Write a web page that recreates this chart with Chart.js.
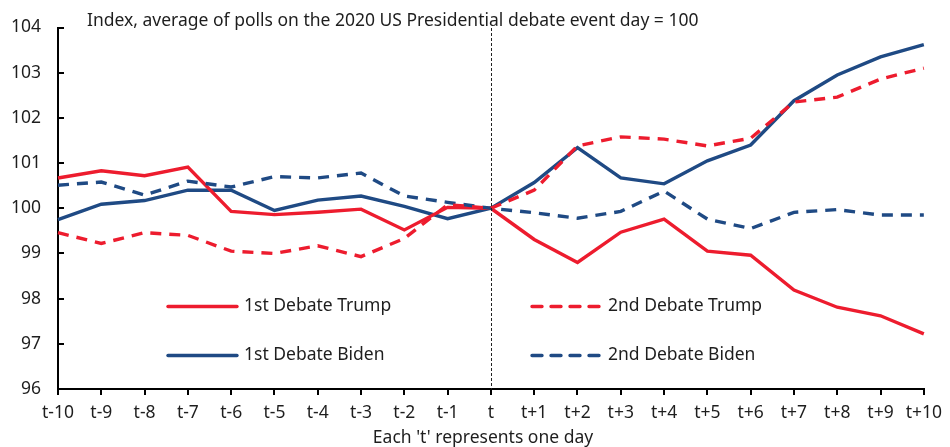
<!DOCTYPE html>
<html>
<head>
<meta charset="utf-8">
<script src="https://cdn.jsdelivr.net/npm/chart.js@4.4.1/dist/chart.umd.min.js"></script>
<style>
  html, body { margin: 0; padding: 0; background: #fff; }
  #wrap { width: 950px; height: 447px; position: relative; }
</style>
</head>
<body>
<div id="wrap"><canvas id="chart" width="950" height="447"></canvas></div>
<script>
// Days around the debate event (t = debate day)
const days = ['t-10','t-9','t-8','t-7','t-6','t-5','t-4','t-3','t-2','t-1','t',
              't+1','t+2','t+3','t+4','t+5','t+6','t+7','t+8','t+9','t+10'];

// Poll index, event day = 100
const firstTrump  = [100.67,100.83,100.72,100.91,99.93,99.86,99.91,99.98,99.52,100.02,100,
                     99.31,98.80,99.47,99.76,99.05,98.96,98.19,97.81,97.62,97.22];
const firstBiden  = [99.75,100.09,100.17,100.40,100.40,99.95,100.18,100.27,100.04,99.77,100,
                     100.57,101.34,100.67,100.54,101.05,101.40,102.38,102.95,103.35,103.62];
const secondTrump = [99.46,99.22,99.46,99.40,99.05,99.00,99.17,98.93,99.33,100.08,100,
                     100.40,101.38,101.58,101.53,101.38,101.55,102.35,102.46,102.86,103.10];
const secondBiden = [100.51,100.58,100.29,100.60,100.47,100.70,100.67,100.78,100.27,100.13,100,
                     99.90,99.78,99.93,100.38,99.76,99.55,99.91,99.97,99.85,99.85];

const yTicks = [96, 97, 98, 99, 100, 101, 102, 103, 104];
const titleText = 'Index, average of polls on the 2020 US Presidential debate event day = 100';
const xTitleText = "Each 't' represents one day";
const eventDay = 't';

const RED = '#ED1C2E';
const BLUE = '#1F4A84';
const INK = '#1e1e1e';
const FONT = '"Noto Sans", "Open Sans", sans-serif';
const FSIZE = 17.5;
const DASH = [11, 8];

const datasets = [
  { label: '2nd Debate Trump', data: secondTrump, borderColor: RED, borderDash: DASH },
  { label: '2nd Debate Biden', data: secondBiden, borderColor: BLUE, borderDash: DASH },
  { label: '1st Debate Trump', data: firstTrump, borderColor: RED, borderDash: [] },
  { label: '1st Debate Biden', data: firstBiden, borderColor: BLUE, borderDash: [] }
].map(d => Object.assign({
  borderWidth: 3.4, pointRadius: 0, tension: 0, fill: false,
  borderCapStyle: 'butt', borderJoinStyle: 'miter', backgroundColor: d.borderColor
}, d));

// Legend placement inside the plot: [dataset label, column, row]
const legendLayout = [
  ['1st Debate Trump', 0, 0], ['2nd Debate Trump', 1, 0],
  ['1st Debate Biden', 0, 1], ['2nd Debate Biden', 1, 1]
];

const decorations = {
  id: 'decorations',
  afterDatasetsDraw(chart) {
    const ctx = chart.ctx;
    const x = chart.scales.x, y = chart.scales.y;
    const area = chart.chartArea;
    ctx.save();

    // event-day marker
    const ex = Math.round(x.getPixelForValue(days.indexOf(eventDay))) + 0.5;
    ctx.strokeStyle = '#222';
    ctx.lineWidth = 1;
    ctx.setLineDash([3, 2]);
    ctx.beginPath();
    ctx.moveTo(ex, 28);
    ctx.lineTo(ex, area.bottom);
    ctx.stroke();
    ctx.setLineDash([]);

    // inward ticks on the value axis
    ctx.strokeStyle = '#000';
    ctx.lineWidth = 2;
    yTicks.forEach(v => {
      const py = Math.round(y.getPixelForValue(v));
      ctx.beginPath();
      ctx.moveTo(area.left, py);
      ctx.lineTo(area.left + 6, py);
      ctx.stroke();
    });

    // header text
    ctx.fillStyle = INK;
    ctx.font = FSIZE + 'px ' + FONT;
    ctx.textBaseline = 'middle';
    ctx.textAlign = 'left';
    ctx.fillText(titleText, 87, 21);

    // x axis title
    ctx.textAlign = 'center';
    ctx.fillText(xTitleText, 483, 438);

    // legend
    const colX = [167, 531];
    const rowY = [306.5, 355.5];
    legendLayout.forEach(([label, c, r]) => {
      const ds = chart.data.datasets.find(d => d.label === label);
      const lx = colX[c], ly = rowY[r];
      ctx.strokeStyle = ds.borderColor;
      ctx.lineWidth = 3.4;
      ctx.lineCap = 'round';
      ctx.setLineDash(ds.borderDash.length ? [10, 9] : []);
      ctx.beginPath();
      ctx.moveTo(lx + 1, ly);
      ctx.lineTo(lx + 70, ly);
      ctx.stroke();
      ctx.setLineDash([]);
      ctx.fillStyle = INK;
      ctx.textAlign = 'left';
      ctx.fillText(label, lx + 77, ly);
    });
    ctx.restore();
  }
};

new Chart(document.getElementById('chart'), {
  type: 'line',
  data: { labels: days, datasets },
  options: {
    responsive: false,
    animation: false,
    events: [],
    layout: { padding: { top: 23, right: 21, left: 0, bottom: 0 } },
    plugins: { legend: { display: false }, tooltip: { enabled: false }, title: { display: false } },
    scales: {
      x: {
        type: 'category',
        offset: false,
        grid: { display: true, drawOnChartArea: false, drawTicks: true, tickLength: 6, color: '#000', lineWidth: 2 },
        border: { display: true, color: '#000', width: 2 },
        ticks: { color: INK, font: { family: FONT, size: FSIZE }, padding: 8, maxRotation: 0, autoSkip: false },
        afterFit(s) { s.height = 58; }
      },
      y: {
        min: 96, max: 104,
        afterBuildTicks(s) { s.ticks = yTicks.map(v => ({ value: v })); },
        grid: { display: true, drawOnChartArea: false, drawTicks: false, tickLength: 0 },
        border: { display: true, color: '#000', width: 2 },
        ticks: { color: INK, font: { family: FONT, size: FSIZE }, padding: 17 },
        afterFit(s) { s.width = 58; }
      }
    }
  },
  plugins: [decorations]
});
</script>
</body>
</html>
